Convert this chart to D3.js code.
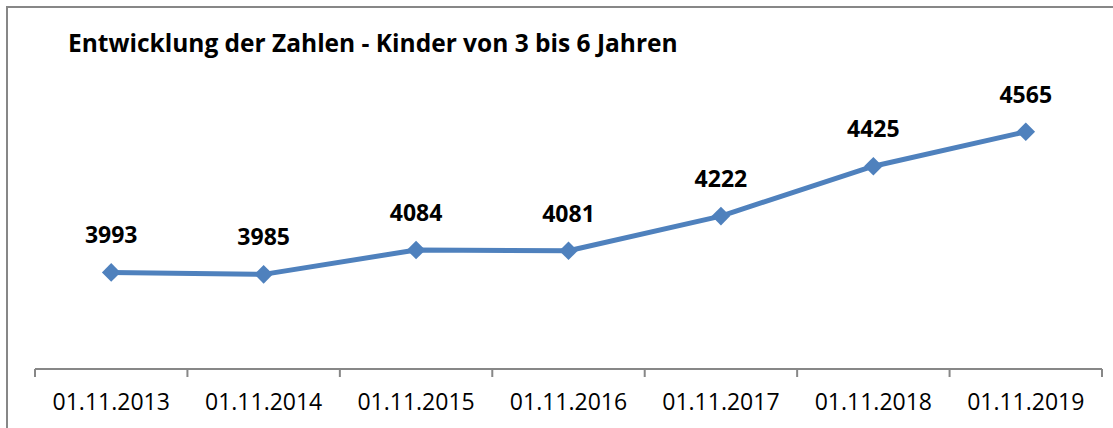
<!DOCTYPE html>
<html>
<head>
<meta charset="utf-8">
<script src="https://cdn.jsdelivr.net/npm/d3@7"></script>
<style>
  body { margin: 0; background: #fff; }
  svg { display: block; }
</style>
</head>
<body>
<svg id="chart"></svg>
<script>
// Stichtage und Kinderzahlen
const dates = ['01.11.2013', '01.11.2014', '01.11.2015', '01.11.2016', '01.11.2017', '01.11.2018', '01.11.2019'];
const kinder = [3993, 3985, 4084, 4081, 4222, 4425, 4565];
const yDomain = [3600, 4800];
const title = 'Entwicklung der Zahlen - Kinder von 3 bis 6 Jahren';

const width = 1113, height = 428;
const margin = {top: 74, right: 11, bottom: 59, left: 35};

const svg = d3.select('#chart')
    .attr('width', width)
    .attr('height', height);

// Rahmen (rechts/unten abgeschnitten wie im Original)
svg.append('rect')
    .attr('x', 7).attr('y', 7)
    .attr('width', 1300).attr('height', 600)
    .attr('fill', 'none')
    .attr('stroke', '#878787')
    .attr('stroke-width', 2);

svg.append('text')
    .attr('x', 68)
    .attr('y', 52)
    .attr('font-family', 'Open Sans')
    .attr('font-weight', 'bold')
    .attr('font-size', '24.5px')
    .attr('fill', '#000')
    .text(title);

const x = d3.scaleBand()
    .domain(dates)
    .range([margin.left, width - margin.right]);

const y = d3.scaleLinear()
    .domain(yDomain)
    .range([height - margin.bottom, margin.top]);

// x-Achse mit Trennstrichen zwischen den Kategorien
const axisY = height - margin.bottom;
const axisG = svg.append('g');
axisG.append('line')
    .attr('x1', x.range()[0]).attr('x2', x.range()[1])
    .attr('y1', axisY).attr('y2', axisY)
    .attr('stroke', '#878787')
    .attr('stroke-width', 2);

const bounds = dates.map(d => x(d)).concat([x.range()[1]]);
axisG.selectAll('.tick')
    .data(bounds)
    .enter()
    .append('line')
    .attr('x1', d => d).attr('x2', d => d)
    .attr('y1', axisY).attr('y2', axisY + 8)
    .attr('stroke', '#878787')
    .attr('stroke-width', 2);

axisG.selectAll('.lbl')
    .data(dates)
    .enter()
    .append('text')
    .attr('x', d => x(d) + x.bandwidth() / 2)
    .attr('y', axisY + 41)
    .attr('text-anchor', 'middle')
    .attr('font-family', 'Open Sans')
    .attr('font-size', '23px')
    .attr('fill', '#000')
    .text(d => d);

const cx = (d, i) => x(dates[i]) + x.bandwidth() / 2;

const line = d3.line()
    .x(cx)
    .y(d => y(d));

svg.append('path')
    .datum(kinder)
    .attr('d', line)
    .attr('fill', 'none')
    .attr('stroke', '#4F81BD')
    .attr('stroke-width', 5)
    .attr('stroke-linejoin', 'round');

const diamond = d3.symbol().type(d3.symbolDiamond2).size(220);

svg.selectAll('.pt')
    .data(kinder)
    .enter()
    .append('path')
    .attr('d', diamond)
    .attr('transform', (d, i) => `translate(${cx(d, i)},${y(d)})`)
    .attr('fill', '#4F81BD');

svg.selectAll('.val')
    .data(kinder)
    .enter()
    .append('text')
    .attr('x', cx)
    .attr('y', d => y(d) - 29)
    .attr('text-anchor', 'middle')
    .attr('font-family', 'Open Sans')
    .attr('font-weight', 'bold')
    .attr('font-size', '23px')
    .attr('fill', '#000')
    .text(d => d);
</script>
</body>
</html>
